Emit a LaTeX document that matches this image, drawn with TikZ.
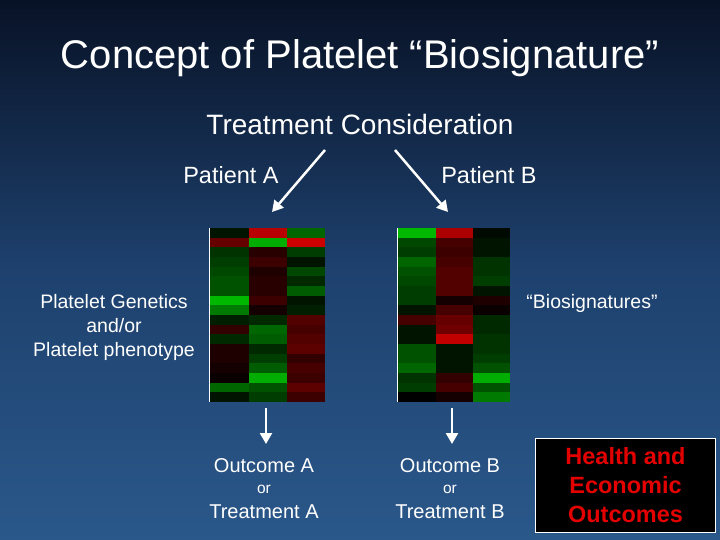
\documentclass[tikz,border=0pt]{standalone}
\usepackage{fontspec}
\setmainfont{Liberation Sans}
\usetikzlibrary{arrows.meta}
\newcommand{\hmcol}[4]{% x, width, name, list
  \foreach \v [count=\i] in {#4}{%
    \pgfmathsetmacro{\pc}{abs(\v)*80}%
    \ifdim \v pt<0pt \colorlet{cc}{green!\pc!black}\else\colorlet{cc}{red!\pc!black}\fi
    \fill[cc] (#1,{228+(\i-1)*9.667}) rectangle ++(#2,9.8);
  }}
\begin{document}
\begin{tikzpicture}[x=1pt,y=-1pt,
  txt/.style={text=white,align=center,inner sep=0pt},
  warr/.style={draw=white,line width=2.5pt,-{Triangle[length=11pt,width=12pt]}}]
\useasboundingbox (0,0) rectangle (720,540);
\shade[top color={rgb,255:red,8;green,18;blue,38},bottom color={rgb,255:red,42;green,88;blue,138},middle color={rgb,255:red,30;green,65;blue,110}] (0,0) rectangle (720,540);
\node[txt,font=\fontsize{40}{44}\selectfont] (title) at (360,58) {Concept of Platelet “Biosignature”};
\node[txt,font=\fontsize{28}{32}\selectfont] (tc) at (360,124) {Treatment Consideration};
\node[txt,font=\fontsize{23.5}{26}\selectfont] (pa) at (231,175) {Patient A};
\node[txt,font=\fontsize{23.5}{26}\selectfont] (pb) at (489,175) {Patient B};
\coordinate (a1) at (325,150); \coordinate (a2) at (272,212);
\coordinate (b1) at (395,150); \coordinate (b2) at (448,212);
\draw[warr] (a1) -- (a2);
\draw[warr] (b1) -- (b2);
% heatmap A
\hmcol{210}{39}{a1}{-.1,.5,-.25,-.3,-.35,-.4,-.4,-.9,-.6,-.15,.25,-.2,.15,.15,.1,.05,-.5,-.1}
\hmcol{249}{38}{a2}{.9,-.85,.2,.3,.15,.2,.2,.3,.1,-.2,-.5,-.45,-.2,-.3,-.45,-.85,-.4,-.3}
\hmcol{287}{38}{a3}{-.5,1,-.3,-.1,-.35,-.2,-.45,-.1,-.15,.4,.35,.4,.45,.25,.35,.3,.45,.3}
\draw[white,line width=1.2pt] (209.5,228) -- (209.5,402);
% heatmap B
\hmcol{398}{38}{b1}{-.9,-.35,-.3,-.5,-.4,-.35,-.3,-.3,-.1,.35,-.1,-.1,-.4,-.4,-.5,-.25,-.3,0}
\hmcol{436}{37}{b2}{.85,.35,.3,.35,.4,.4,.4,.1,.35,.5,.55,.95,-.1,-.1,-.1,.25,.35,.1}
\hmcol{473}{37}{b3}{-.05,-.1,-.1,-.25,-.25,-.3,-.1,.15,.05,-.2,-.2,-.25,-.25,-.3,-.4,-.85,-.4,-.6}
\draw[white,line width=1.2pt] (397.5,228) -- (397.5,402);
\node[txt,font=\fontsize{19.5}{24}\selectfont] (pg) at (114,327) {Platelet Genetics\\and/or\\Platelet phenotype};
\node[txt,font=\fontsize{19.5}{22}\selectfont] (bs) at (592,303) {“Biosignatures”};
\coordinate (da1) at (266,408); \coordinate (da2) at (266,444);
\coordinate (db1) at (452,408); \coordinate (db2) at (452,444);
\draw[warr] (da1) -- (da2);
\draw[warr] (db1) -- (db2);
\node[txt,font=\fontsize{20}{22}\selectfont] (oa) at (264,466) {Outcome A};
\node[txt,font=\fontsize{15.5}{17}\selectfont] (ora) at (264,489) {or};
\node[txt,font=\fontsize{20}{22}\selectfont] (ta) at (264,512) {Treatment A};
\node[txt,font=\fontsize{20}{22}\selectfont] (ob) at (450,466) {Outcome B};
\node[txt,font=\fontsize{15.5}{17}\selectfont] (orb) at (450,489) {or};
\node[txt,font=\fontsize{20}{22}\selectfont] (tb) at (450,512) {Treatment B};
\node[draw=white,line width=1pt,fill=black,minimum width=180pt,minimum height=94pt,text=red!90!black,align=center,font=\bfseries\fontsize{23.5}{29}\selectfont] (ho) at (625.5,485) {Health and\\Economic\\Outcomes};
\end{tikzpicture}
\end{document}
